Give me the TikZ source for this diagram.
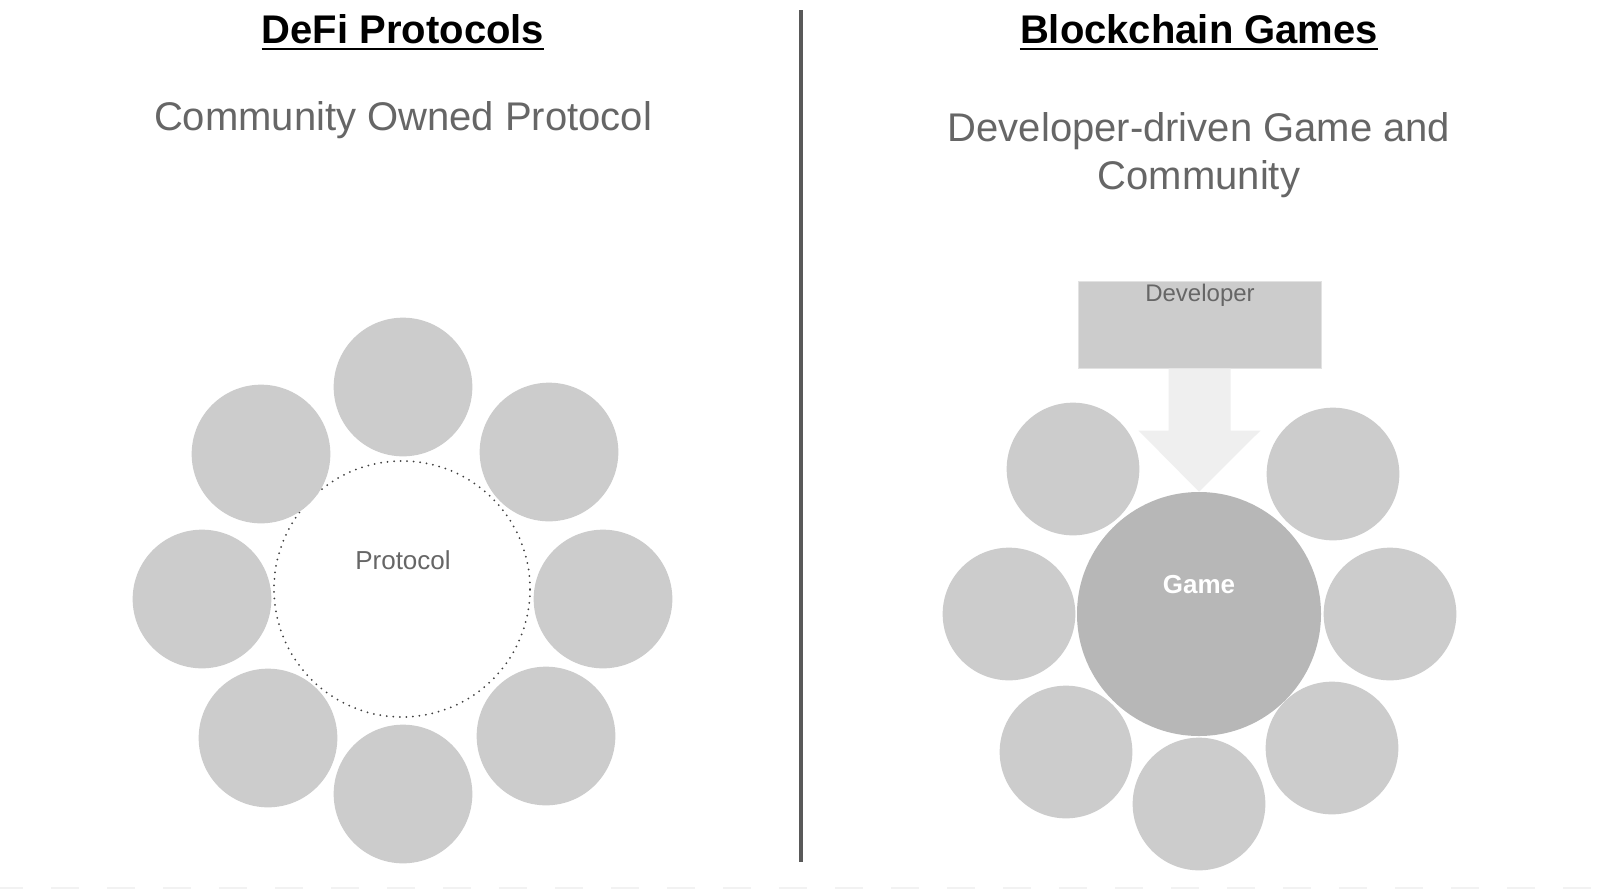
\documentclass[tikz,border=0pt]{standalone}
\usepackage{fontspec}
\setmainfont{Liberation Sans}
\usetikzlibrary{calc}
\definecolor{circ}{HTML}{CCCCCC}
\definecolor{gamec}{HTML}{B7B7B7}
\definecolor{txtg}{HTML}{666666}
\definecolor{arrowc}{HTML}{EFEFEF}
\definecolor{linec}{HTML}{595959}
\definecolor{devborder}{HTML}{E2E2E2}
\definecolor{faint}{HTML}{F2F2F2}
\begin{document}
\begin{tikzpicture}[x=0.75pt,y=-0.75pt,
  titlestyle/.style={anchor=base,inner sep=0pt,font=\fontsize{30}{36}\selectfont\bfseries,text=black},
  substyle/.style={anchor=base,inner sep=0pt,font=\fontsize{30}{36}\selectfont,text=txtg,align=center},
  member/.style={circle,fill=circ,inner sep=0pt,minimum size=104pt},
  player/.style={circle,fill=circ,inner sep=0pt,minimum size=99.5pt},
  gamestyle/.style={circle,fill=gamec,inner sep=0pt,minimum size=183pt},
  ring/.style={circle,draw=black!75,line width=1.5pt,dash pattern=on 0pt off 4.9pt,line cap=round,inner sep=0pt,minimum size=192pt},
  devbox/.style={rectangle,fill=circ,draw=devborder,line width=0.75pt,inner sep=0pt,minimum width=182.25pt,minimum height=65.25pt},
  smalltext/.style={anchor=base,inner sep=0pt,text=txtg}
]
\useasboundingbox (0,0) rectangle (1600,890);
\fill[white] (0,0) rectangle (1600,890);

% faint bottom dashes
\coordinate (bl) at (-5,888);
\coordinate (br) at (1605,888);
\draw[faint,line width=2pt,dash pattern=on 21pt off 21pt] (bl) -- (br);

% divider
\coordinate (divtop) at (801,10);
\coordinate (divbot) at (801,862);
\draw[linec,line width=2.6pt] (divtop) -- (divbot);

% titles
\node[titlestyle] (t1) at (403,43) {DeFi Protocols};
\draw[line width=2.2pt] ($(t1.base west)+(0,6)$) -- ($(t1.base east)+(0,6)$);
\node[titlestyle] (t2) at (1199,43) {Blockchain Games};
\draw[line width=2.2pt] ($(t2.base west)+(0,6)$) -- ($(t2.base east)+(0,6)$);

% subtitles
\node[substyle] (s1) at (403,130) {Community Owned Protocol};
\node[substyle] (s2) at (1199,189) {Developer-driven Game and\\Community};

% left: protocol ring and members
\node[ring] (proto) at (402,589) {};
\node[smalltext,font=\fontsize{19.5}{23}\selectfont] (protolbl) at (403,569) {Protocol};
\node[member] (m1) at (403,387) {};
\node[member] (m2) at (549,452) {};
\node[member] (m3) at (603,599) {};
\node[member] (m4) at (546,736) {};
\node[member] (m5) at (403,794) {};
\node[member] (m6) at (268,738) {};
\node[member] (m7) at (202,599) {};
\node[member] (m8) at (261,454) {};

% right: players, game, developer
\node[player] (p1) at (1073,469) {};
\node[player] (p2) at (1333,474) {};
\node[player] (p3) at (1009,614) {};
\node[player] (p4) at (1390,614) {};
\node[player] (p5) at (1066,752) {};
\node[player] (p6) at (1199,804) {};
\node[player] (p7) at (1332,748) {};
\node[gamestyle] (game) at (1199,614) {};
\node[anchor=base,inner sep=0pt,text=white,font=\fontsize{19.5}{23}\selectfont\bfseries] (gamelbl) at (1199,593) {Game};

\node[devbox] (dev) at (1199.5,324.5) {};
\node[smalltext,font=\fontsize{18}{22}\selectfont] (devlbl) at (1200,301) {Developer};

\fill[arrowc] ($(dev.south)+(-31,0)$) -- ($(dev.south)+(31,0)$) -- ($(dev.south)+(31,62)$)
  -- ($(dev.south)+(61,62)$) -- (game.north) -- ($(dev.south)+(-61,62)$)
  -- ($(dev.south)+(-31,62)$) -- cycle;
\end{tikzpicture}
\end{document}
